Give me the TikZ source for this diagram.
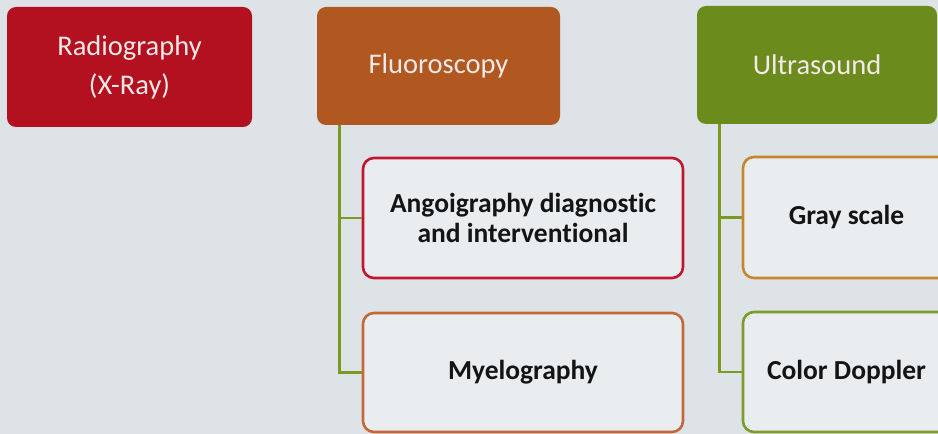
\documentclass[tikz,border=0pt]{standalone}
\usepackage{fontspec}
\setmainfont{Carlito}[Ligatures=NoCommon]
\definecolor{bgc}{HTML}{DDE3E7}
\definecolor{radc}{HTML}{B3111F}
\definecolor{fluc}{HTML}{B0581F}
\definecolor{ultc}{HTML}{6C8B1D}
\definecolor{linec}{HTML}{7C9A1F}
\definecolor{angc}{HTML}{C41530}
\definecolor{myec}{HTML}{C4683A}
\definecolor{grac}{HTML}{C8862C}
\definecolor{colc}{HTML}{7E9C2A}
\definecolor{childfill}{HTML}{E9EDEF}
\definecolor{headtext}{HTML}{F3E9E9}
\begin{document}
\begin{tikzpicture}[x=1pt,y=1pt,
  head/.style={rectangle, rounded corners=9pt, inner sep=0pt, align=center,
    text=headtext, font=\fontsize{28.5}{39}\selectfont},
  child/.style={rectangle, rounded corners=11pt, inner sep=0pt, align=center,
    fill=childfill, line width=2.6pt, text=black!92,
    font=\fontsize{27.5}{30}\selectfont\bfseries},
  conn/.style={draw=linec, line width=2.8pt}]
\path[use as bounding box, fill=bgc] (0,0) rectangle (938,434);
\node[head, fill=radc, minimum width=245pt, minimum height=120pt] (rad) at (129.5,367) {Radiography\\(X-Ray)};
\node[head, fill=fluc, minimum width=243pt, minimum height=118pt] (flu) at (438.5,368) {Fluoroscopy};
\node[head, fill=ultc, minimum width=240pt, minimum height=118pt] (ult) at (817,369) {Ultrasound};
\node[child, draw=angc, minimum width=320pt, minimum height=120pt] (ang) at (523,216) {Angoigraphy diagnostic\\and interventional};
\node[child, draw=myec, minimum width=320pt, minimum height=119pt] (mye) at (523,61.5) {Myelography};
\node[child, draw=grac, minimum width=207pt, minimum height=121pt] (gra) at (846.5,216.5) {Gray scale};
\node[child, draw=colc, minimum width=207pt, minimum height=120pt] (col) at (846.5,62) {Color Doppler};
\draw[conn] ([xshift=23pt]flu.south west) |- (ang.west);
\draw[conn] ([xshift=23pt]flu.south west) |- (mye.west);
\draw[conn] ([xshift=23pt]ult.south west) |- (gra.west);
\draw[conn] ([xshift=23pt]ult.south west) |- (col.west);
\end{tikzpicture}
\end{document}
